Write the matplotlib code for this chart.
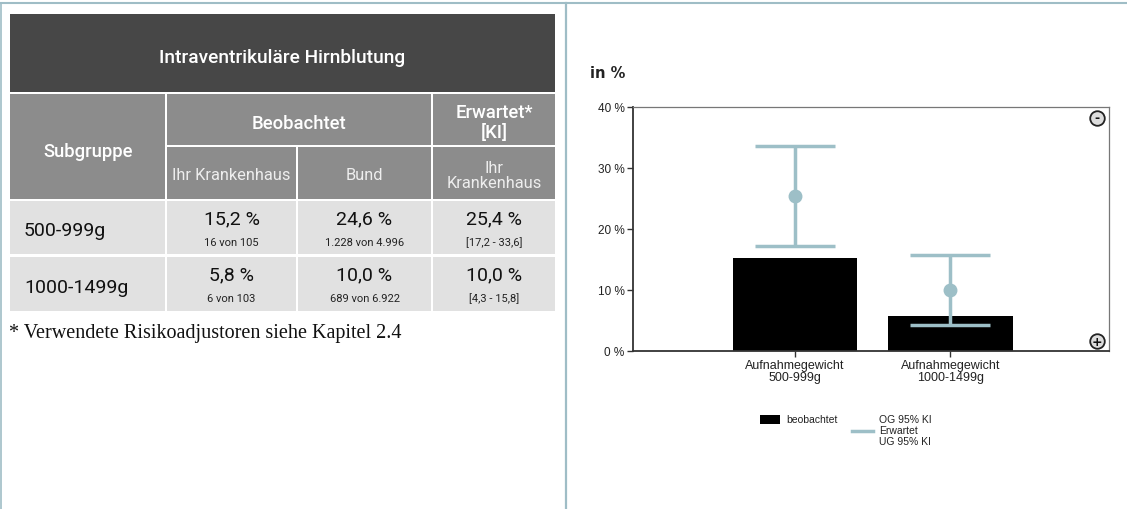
import matplotlib.pyplot as plt
from matplotlib.patches import Rectangle
from matplotlib.lines import Line2D

# data
title = 'Intraventrikuläre Hirnblutung'
subgroups = ['500-999g', '1000-1499g']
obs_hosp = [15.2, 5.8]
obs_hosp_n = ['16 von 105', '6 von 103']
obs_bund = [24.6, 10.0]
obs_bund_n = ['1.228 von 4.996', '689 von 6.922']
expected = [25.4, 10.0]
ci_low = [17.2, 4.3]
ci_high = [33.6, 15.8]
x_labels = ['Aufnahmegewicht\n500-999g', 'Aufnahmegewicht\n1000-1499g']
y_ticks = [0, 10, 20, 30, 40]
footnote = '* Verwendete Risikoadjustoren siehe Kapitel 2.4'


def pct(v):
    return f'{v:.1f} %'.replace('.', ',')


def ci_text(lo, hi):
    return f'[{lo:.1f} - {hi:.1f}]'.replace('.', ',')


dark = '#474747'
head = '#8c8c8c'
cell = '#e1e1e1'
frame = '#9fbdc6'
ci_col = '#9dbfc7'

fig = plt.figure(figsize=(11.27, 5.10), dpi=100)
fig.patch.set_facecolor('white')

# background layer in pixel coordinates
bg = fig.add_axes([0, 0, 1, 1])
bg.set_xlim(0, 1127)
bg.set_ylim(510, 0)
bg.axis('off')

# page frame
bg.plot([0, 1127], [3.5, 3.5], color=frame, lw=1.5)
bg.plot([1, 1], [3.5, 510], color=frame, lw=1.2)
bg.plot([566, 566], [3.5, 510], color=frame, lw=1.6)


def box(x0, x1, y0, y1, c):
    bg.add_patch(Rectangle((x0, y0), x1 - x0, y1 - y0, color=c, lw=0))


tf = 'Roboto'
# title row
box(10, 555, 15, 93, dark)
bg.text(282, 58, title, ha='center', va='center', color='white',
        fontsize=13.8, fontweight='medium', family=tf)

# header rows
box(10, 165, 95, 200, head)
box(167, 431, 95, 146, head)
box(433, 555, 95, 146, head)
box(167, 296, 148, 200, head)
box(298, 431, 148, 200, head)
box(433, 555, 148, 200, head)
bg.text(88, 152, 'Subgruppe', ha='center', va='center', color='white',
        fontsize=13.3, fontweight='medium', family=tf)
bg.text(299, 124, 'Beobachtet', ha='center', va='center', color='white',
        fontsize=13.3, fontweight='medium', family=tf)
bg.text(494, 123, 'Erwartet*\n[KI]', ha='center', va='center', color='white',
        fontsize=13.3, fontweight='medium', family=tf, linespacing=1.1)
sub = dict(ha='center', va='center', color='#eeeeee', fontsize=11.8, family=tf)
bg.text(231, 176, 'Ihr Krankenhaus', **sub)
bg.text(364, 176, 'Bund', **sub)
bg.text(494, 176, 'Ihr\nKrankenhaus', linespacing=1.05, **sub)

# data rows
cols = [(10, 165), (167, 296), (298, 431), (433, 555)]
rows = [(202, 255), (258, 312)]
for i, (y0, y1) in enumerate(rows):
    for x0, x1 in cols:
        box(x0, x1, y0, y1, cell)
    ym = (y0 + y1) / 2
    bg.text(24, ym + 3, subgroups[i], ha='left', va='center', color='#111111',
            fontsize=14, family=tf)
    big = [pct(obs_hosp[i]), pct(obs_bund[i]), pct(expected[i])]
    small = [obs_hosp_n[i], obs_bund_n[i], ci_text(ci_low[i], ci_high[i])]
    for (x0, x1), b, s in zip(cols[1:], big, small):
        xc = (x0 + x1) / 2
        bg.text(xc, y0 + 17, b, ha='center', va='center', color='#111111',
                fontsize=14, family=tf)
        bg.text(xc, y0 + 41, s, ha='center', va='center', color='#222222',
                fontsize=8, family=tf)

bg.text(9, 334, footnote, ha='left', va='center', color='#111111',
        fontsize=14.5, family='Liberation Serif')

# chart
cf = 'Liberation Sans'
ax = fig.add_axes([633 / 1127, (510 - 352) / 510, 476 / 1127, 244 / 510])
ax.set_zorder(2)
pos = list(range(len(subgroups)))
ax.bar(pos, obs_hosp, width=0.8, color='black', zorder=2)
err = [[e - l for e, l in zip(expected, ci_low)],
       [h - e for e, h in zip(expected, ci_high)]]
ax.errorbar(pos, expected, yerr=err, fmt='o', color=ci_col, ms=9,
            elinewidth=2.5, capsize=28.5, capthick=2.5, zorder=3)
ax.set_xlim(-1.04, 2.02)
ax.set_ylim(0, 40)
ax.set_yticks(y_ticks)
ax.set_yticklabels([f'{t} %' for t in y_ticks], fontsize=8.5, family=cf, color='#222222')
ax.set_xticks(pos)
ax.set_xticklabels(x_labels, fontsize=9, family=cf, color='#222222', linespacing=1.0)
ax.tick_params(axis='both', length=4, width=1, color='#333333', pad=2)
for s in ['left', 'bottom']:
    ax.spines[s].set_color('#333333')
    ax.spines[s].set_linewidth(1.3)
for s in ['top', 'right']:
    ax.spines[s].set_color('#777777')
    ax.spines[s].set_linewidth(0.9)

# zoom icons
for yy, sym in [(0.955, '-'), (0.04, '+')]:
    ax.scatter([0.975], [yy], s=110, transform=ax.transAxes, facecolor='#dddddd',
               edgecolor='#222222', linewidths=1.3, zorder=5, clip_on=False)
    ax.text(0.975, yy, sym, transform=ax.transAxes, ha='center', va='center',
            fontsize=9, fontweight='bold', color='#111111', zorder=6)

bg.text(590, 73, 'in %', ha='left', va='center', fontsize=10.5,
        fontweight='bold', family='DejaVu Sans', color='#222222')

# legend
bg.add_patch(Rectangle((760, 416), 20, 9, color='black', lw=0))
bg.text(786, 420.5, 'beobachtet', ha='left', va='center', fontsize=7.5,
        family=cf, color='#222222')
bg.add_line(Line2D([852, 873], [432, 432], color=ci_col, lw=2.5))
bg.text(879, 431, 'OG 95% KI\nErwartet\nUG 95% KI', ha='left', va='center',
        fontsize=7.5, family=cf, color='#222222', linespacing=1.15)

fig.savefig('out.png', dpi=100)
